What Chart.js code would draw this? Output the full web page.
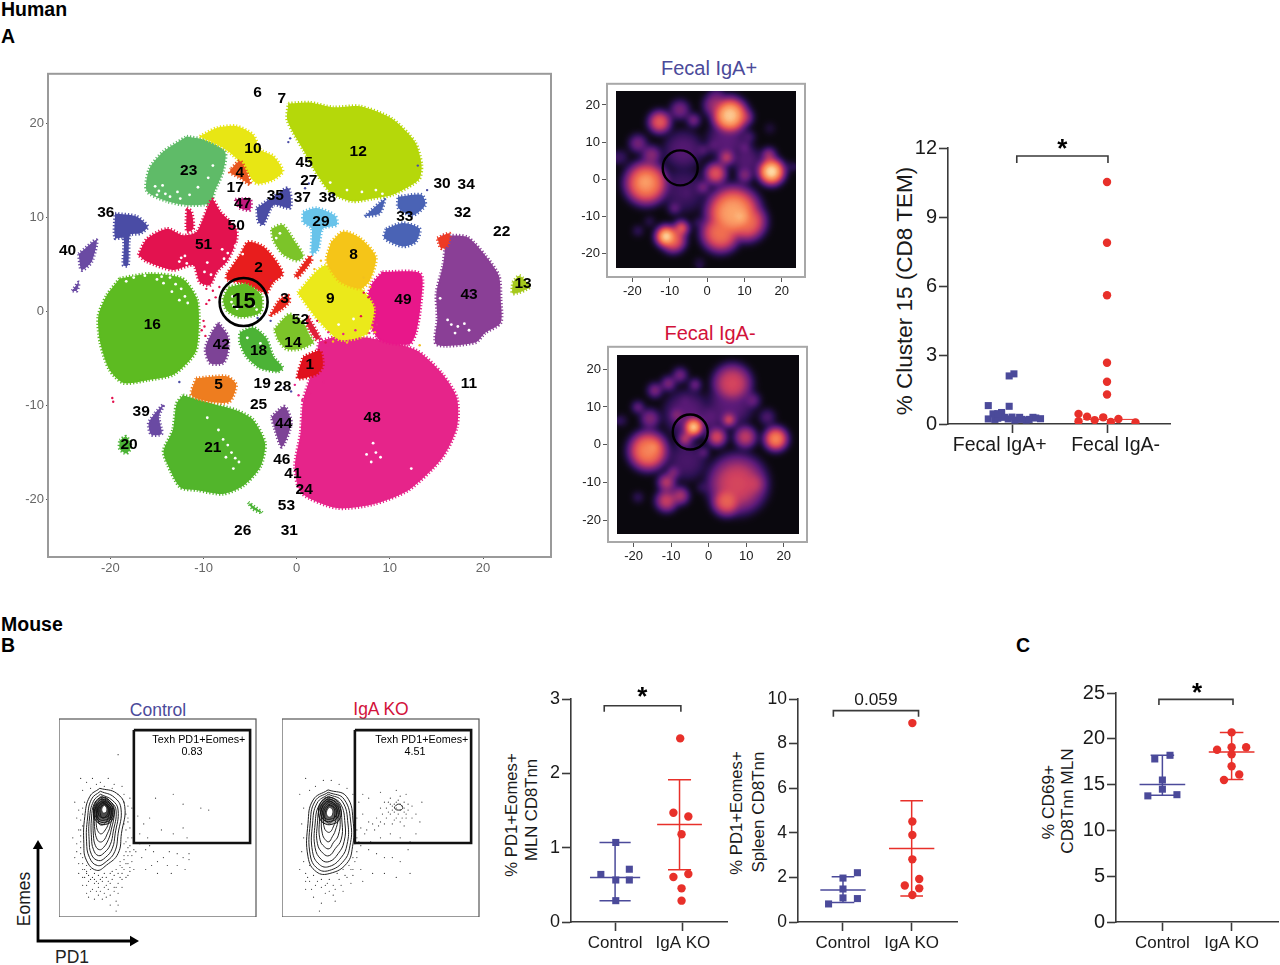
<!DOCTYPE html>
<html>
<head>
<meta charset="utf-8">
<script src="https://cdn.jsdelivr.net/npm/chart.js@4/dist/chart.umd.js"></script>
<style>
  html, body { margin: 0; padding: 0; background: #fff; }
  #page { position: relative; width: 1280px; height: 965px; overflow: hidden; font-family: "Liberation Sans", Arial, sans-serif; }
  canvas { position: absolute; }
  .t { position: absolute; white-space: nowrap; color: #000; transform: translate(-50%, -50%); }
  .h { font-weight: bold; font-size: 19.5px; transform: translate(0, -50%); }
  .v { color: #1a1a1a; transform: translate(-50%, -50%) rotate(-90deg); }
</style>
</head>
<body>
<div id="page">
  <div class="t h" style="left:1px;top:9px">Human</div>
  <div class="t h" style="left:1px;top:36px">A</div>
  <div class="t h" style="left:1px;top:624px">Mouse</div>
  <div class="t h" style="left:1px;top:645px">B</div>
  <div class="t h" style="left:1016px;top:645px">C</div>
  <div class="t" style="left:709px;top:68px;font-size:20px;color:#4b4a9a">Fecal IgA+</div>
  <div class="t" style="left:710px;top:333px;font-size:20px;color:#d2123a">Fecal IgA-</div>
  <div class="t" style="left:158px;top:710px;font-size:17.5px;color:#4b4a9a">Control</div>
  <div class="t" style="left:381px;top:709px;font-size:17.5px;color:#d2123a">IgA KO</div>
  <div class="t v" style="left:24px;top:899px;font-size:17.5px">Eomes</div>
  <div class="t" style="left:72px;top:957px;font-size:17.5px;color:#222">PD1</div>
  <div class="t v" style="left:905px;top:291px;font-size:22.5px">% Cluster 15 (CD8 TEM)</div>
  <div class="t v" style="left:512px;top:815px;font-size:16.7px">% PD1+Eomes+</div>
  <div class="t v" style="left:532px;top:810px;font-size:16.7px">MLN CD8Tnn</div>
  <div class="t v" style="left:737px;top:813px;font-size:16.7px">% PD1+Eomes+</div>
  <div class="t v" style="left:759px;top:812px;font-size:17px">Spleen CD8Tnn</div>
  <div class="t v" style="left:1048px;top:802px;font-size:17.3px">% CD69+</div>
  <div class="t v" style="left:1067px;top:801px;font-size:17.3px">CD8Tnn MLN</div>
</div>
<script>
// ---- panel A right
var igaPosSquares = [[2.18,1.02],[2.09,0.97],[0.8,0.75],[0.77,0.97],[0.5,0.89],[0.44,0.8],[0.32,0.86],[0.44,0.89],[0.22,0.75],[0.29,0.92],[0.22,0.96],[0.17,1.03],[0.29,1.08],[0.17,1.15],[0.29,1.22],[0.26,1.25],[0.23,1.3],[0.2,0.82],[0.2,1.1],[0.25,0.85],[0.3,1.0],[0.2,1.18],[0.45,0.85]];
var igaNegCircles = [[10.52,2],[7.88,2],[5.6,2],[2.66,2],[1.84,2],[1.28,2],[0.44,1.7],[0.12,1.7],[0.32,1.79],[0.17,1.87],[0.29,1.96],[0.09,2.04],[0.22,2.12],[0.07,2.3]];
var clusterGroups = ["Fecal IgA+", "Fecal IgA-"];

// ---- panels B and C: [value, x position]
var mlnControl = [[1.07,1.01],[0.64,0.79],[0.71,1.21],[0.565,1.01],[0.565,1.21],[0.287,1.01]];
var mlnKo = [[2.47,1.96],[1.47,1.86],[1.42,2.08],[1.18,1.98],[0.646,2.08],[0.605,1.86],[0.453,1.98],[0.287,1.98]];
var spleenControl = [[2.21,1.21],[1.97,1],[0.81,0.79],[1.48,1],[1.08,1],[1.05,1.21]];
var spleenKo = [[8.92,2.01],[4.51,2.01],[3.9,2.01],[2.81,2.01],[1.93,2.11],[1.64,1.9],[1.51,2.11],[1.21,2.01]];
var cd69Control = [[18.2,1.11],[17.8,0.89],[15.5,1],[14.5,1],[13.77,0.79],[13.9,1.21]];
var cd69Ko = [[20.7,2],[18.8,1.79],[19.08,2],[19.08,2.21],[18.3,2],[17.0,2],[16.1,2.11],[15.5,1.89]];
var mouseGroups = ["Control", "IgA KO"];
// mean, upper sd, lower sd
var mlnControlStats = [0.6, 1.07, 0.287], mlnKoStats = [1.31, 1.915, 0.704];
var spleenControlStats = [1.43, 2.03, 0.87], spleenKoStats = [3.3, 5.44, 1.17];
var cd69ControlStats = [15, 18.2, 13.84], cd69KoStats = [18.57, 20.7, 15.55];

// ---- tSNE clusters (outlines)
var c48 = [[2.4,-3.2],[4.6,-2.6],[8.2,-2.9],[12.8,-4.1],[15.6,-6.6],[17.2,-9.2],[17.2,-12.3],[15.6,-15.6],[12,-19],[8.2,-20.5],[4.3,-20.9],[0.5,-19.3],[-0.2,-16.5],[0.4,-13],[0.7,-9.4],[1.8,-6]];
var c12 = [[-0.9,22.1],[1.4,22.2],[3.9,21.7],[6.8,21.8],[10.2,20.5],[12.7,18],[13.4,15.6],[13.1,14],[10.3,12.4],[8.2,12],[6.0,11.7],[3.7,12.6],[2.3,14.4],[0.8,17],[-1,20.3]];
var c16 = [[-19.0,3.5],[-15.8,4.0],[-12.3,3.5],[-10.7,1.3],[-10.5,-1.5],[-10.9,-4.4],[-13.2,-6.7],[-16.0,-7.3],[-18.6,-7.6],[-20.1,-6.2],[-21.1,-3.3],[-21.3,-0.5],[-20.4,1.7]];
var c21 = [[-12.2,-8.9],[-9.0,-9.8],[-6.5,-10.5],[-4.7,-11.5],[-3.4,-14.0],[-3.9,-16.5],[-5.7,-18.5],[-7.9,-19.4],[-10.7,-19.0],[-12.5,-18.7],[-13.9,-16.2],[-14.3,-14.8],[-13.3,-12.6],[-12.9,-9.8]];
var c23 = [[-11.8,18.6],[-9.7,18.2],[-7.7,17.0],[-7.9,14.9],[-8.8,12.8],[-9.3,11.5],[-11.8,11.3],[-13.9,11.7],[-16.1,12.8],[-15.8,15.2],[-14.3,17.0]];
var c10 = [[-10.4,18.6],[-8.6,19.5],[-6.5,19.7],[-4.7,18.8],[-3.9,17.2],[-2.5,16.5],[-1.5,14.9],[-2.5,14.0],[-4.3,13.6],[-5.4,14.9],[-6.5,16.3],[-7.9,17.4]];
var c4 = [[-7.0,15.2],[-6.1,16.0],[-5.4,14.9],[-5.0,13.5],[-6.1,14.2],[-7.2,14.8]];
var c51 = [[-17.0,6.0],[-16.1,7.7],[-13.9,8.8],[-12.2,8.1],[-10.7,8.5],[-9.1,11.9],[-8.2,10.6],[-6.5,8.8],[-6.5,7.4],[-7.5,5.3],[-8.6,4.2],[-9.3,2.8],[-10.4,3.1],[-11.1,4.9],[-13.3,4.4],[-16.1,5.3]];
var c51spur = [[-11.8,11.0],[-11.3,10.6],[-11.1,8.8],[-11.8,8.5]];
var c2 = [[-7.5,4.0],[-6.1,6.0],[-5.2,7.4],[-3.6,6.9],[-2.4,5.6],[-1.5,4.0],[-2.5,3.1],[-3.3,2.0],[-5.4,2.9],[-7.5,3.4]];
var c15 = [[-7.3,2.6],[-5.4,2.9],[-3.8,1.7],[-3.9,-0.1],[-6.1,-0.6],[-7.5,0.1],[-7.9,1.3]];
var cLime = [[-2.7,8.8],[-1.5,9.2],[-0.2,7.4],[0.7,5.9],[0,5.4],[-1.5,6.1],[-2.5,7.6]];
var c3 = [[-2.9,-0.5],[-1.8,1.3],[-0.9,1.7],[-0.8,1.0],[-1.8,0.1]];
var c14 = [[-2.4,-1.9],[-0.8,-0.3],[0.7,-1.2],[1.4,-2.6],[1.8,-3.3],[0.3,-4.0],[-1.1,-4.0],[-2.0,-3.0]];
var c18 = [[-6.1,-2.2],[-4.7,-1.7],[-3.3,-2.8],[-2.5,-4.8],[-1.5,-6.0],[-2.0,-6.4],[-4.0,-6.0],[-5.4,-4.8],[-6.1,-3.3]];
var c42 = [[-8.4,-1.2],[-7.4,-2.6],[-7.4,-4.4],[-7.9,-5.5],[-9.3,-5.5],[-9.8,-4.0],[-9.1,-2.2]];
var c5 = [[-10.8,-7.1],[-7.5,-6.9],[-6.5,-7.8],[-7.2,-9.6],[-9.3,-9.6],[-11.3,-8.9]];
var c1 = [[0.7,-4.8],[2.5,-4.2],[2.8,-5.8],[2.1,-6.7],[0.1,-7.1]];
var c9 = [[0.1,2.0],[2.8,4.8],[4.8,4.5],[7,2.4],[8.3,0.3],[7.5,-2.4],[4.6,-3],[2.2,-0.8]];
var c8 = [[3.7,7.4],[5.0,8.5],[6.8,7.8],[8.5,5.8],[7.8,3.2],[6.8,2.4],[4.6,3.2],[3.2,5.3]];
var c49 = [[9.2,4.2],[13.3,4.0],[13.3,0.6],[12.8,-2.3],[12.1,-3.5],[8.9,-3],[7.4,-0.1],[8,2.8]];
var c43 = [[15.7,8.1],[18.3,7.9],[20.2,6.0],[21.7,3.8],[21.9,1.3],[21.9,-1.2],[20.2,-2.3],[19.2,-3.3],[15.0,-3.5],[15.1,-0.8],[15.0,2.0],[15.7,4.9],[15.9,6.7]];
var cRedTop = [[15.1,7.8],[16.4,8.3],[16.2,7.0],[15.5,6.7]];
var c13 = [[23.2,3.1],[23.9,3.8],[25,2.6],[23.2,1.9]];
var c29 = [[0.7,10.6],[2.1,11.0],[4.1,10.2],[4.3,9.2],[2.8,8.8],[2.3,6.6],[1.6,6.1],[1.6,8.8],[0.7,9.5]];
var c33a = [[10.9,12.2],[13.4,12.4],[13.8,11.3],[12.4,10.2],[10.9,11.0]];
var c33b = [[9.6,8.8],[11.4,9.4],[13.2,8.8],[12.8,7.4],[11.4,6.9],[9.4,7.8]];
var c33c = [[7.3,10.1],[9.4,11.9],[8.9,10.4]];
var c35 = [[-4.3,11.0],[-2.5,12.2],[-0.9,13.1],[-0.7,11.0],[-2.5,11.3],[-3.6,9.2],[-4.1,9.5]];
var c36 = [[-19.5,10.4],[-17.2,10.1],[-16.0,9.0],[-16.8,8.3],[-17.9,8.1],[-18.1,4.9],[-18.6,4.9],[-18.6,7.8],[-19.5,7.8]];
var c40 = [[-23.4,6.1],[-21.5,7.6],[-22.0,5.3],[-23.1,4.4]];
var c40b = [[-24.1,2.2],[-23.4,3.1],[-23.6,2.2]];
var c39 = [[-15.2,-10.8],[-14.3,-9.9],[-14.8,-11.2],[-14.5,-13],[-15.6,-13.1],[-15.9,-11.9]];
var c20 = [[-19,-13.7],[-18.3,-13.3],[-17.8,-14.4],[-18.3,-15.1],[-19,-14.6]];
var c44 = [[-2.7,-11.2],[-1.3,-10.1],[-0.6,-11.9],[-1.6,-14.4],[-2.4,-12.3]];
var c47 = [[-6.6,11.9],[-5,11.9],[-5,10.8],[-6.1,11]];
var cStripeA = [[-0.2,3.8],[1.4,5.9],[1.6,5.4],[0.1,3.6]];
var cStripeB = [[1.2,-0.5],[2.5,-2.8],[2.1,-3],[1,-1.2]];
var c26 = [[-5.2,-20.3],[-3.7,-21.4],[-4.7,-21]];

// gaps and stray cells inside and around the clusters
var whiteSpecks = [[-15,3.4],[-14.3,3],[-13.6,3.6],[-13,2.9],[-12.4,2.4],[-12,1.6],[-11.7,0.9],[-12.6,1.2],[-13.4,2.1],[-14.5,3.7],[-16.3,3.8],[-17.5,3.6],[-18.3,3.2],[-15.2,13.3],[-14.8,12.8],[-14.4,13.4],[-14.1,12.5],[-15,12.4],[-13.6,12.2],[-12.5,12],[-11.5,12.4],[-10.6,13.2],[-9.5,14.2],[-9,15.5],[-12.8,12.7],[-7.9,-13.6],[-7.4,-14.2],[-7,-15],[-6.6,-15.6],[-6.2,-16],[-7.6,-15.5],[-8.4,-12.6],[-9.6,-11.3],[-6.8,-16.7],[-12.6,5.3],[-12,5.9],[-12.4,5.7],[-11.8,5.1],[-8,6.6],[-7.4,6.2],[-7.8,5.6],[-9.6,5.2],[-9.9,4.2],[-9.2,3.9],[-6.6,7],[-6.4,6.3],[-6.1,6.5],[-5.8,6.1],[-7,1],[-6.8,0.6],[-6.4,0.3],[-6.9,1.6],[-4.6,0.6],[-4.3,0.2],[16.6,-1.4],[17.3,-1.6],[18,-1.3],[18.5,-2],[17,-2.3],[16.2,-0.9],[15.4,1.4],[8.2,-14],[8.5,-15],[9,-15.5],[8,-16],[7.5,-15.2],[12.3,-16.7],[7,12.7],[8.5,12.9],[9.2,12.5],[5.4,12.9],[3.6,13.7],[4.5,-1.4],[6.1,-0.8],[-5.3,-2.8],[-3.9,-3.4],[-2.2,7.8],[-1.8,8.3]];
var redSpecks = [[-9.7,0.8],[-9.4,1.2],[-10,-1],[-9.9,-1.6],[-10.2,-2],[-9.8,-2.6],[-7.8,2.4],[-9,2.2],[-8.7,1.5],[-8.3,2.6],[-9.7,2.4],[-19.8,-9.2],[-19.7,-9.6],[7.2,2],[7.7,1.5],[6.9,-0.5],[2.2,-1],[3.1,-3.3],[-2.8,3.3]];
var pinkSpecks = [[2.6,-2.9],[3.4,-2.2],[5,-2.4],[6.3,-2],[7.8,-2.3],[8.6,-1.4],[1.4,-8.7],[0.2,-8.9],[0.6,-9.4],[-0.2,-7.8],[2.9,-7.5],[3.3,-3.6]];
var yellowSpecks = [[7.6,-2.3],[8.1,-1.7],[8.4,-2.2],[2.6,5.4],[1.9,4.5],[3.9,-3.2],[5.4,-3.3],[13.2,-3.6],[7.9,2.6],[7.2,3.6]];
var blueSpecks = [[-0.7,18.4],[-0.9,18],[1.3,13.6],[0.9,13.1],[13,15.5],[14,12.9],[3.9,12.4],[-4.2,-0.7],[-2.8,-1],[-1.4,-8.1],[-0.6,-8.5],[-12.6,-7.5]];

var clusterLabels = ["6","7","10","12","23","45","4","27","17","35","37","38","47","30","34","33","32","22","36","29","50","51","40","2","8","13","3","9","49","43","16","52","14","42","18","1","5","19","28","11","25","39","48","44","20","21","46","41","24","53","26","31"];
var clusterLabelX = [-4.2,-1.6,-4.7,6.6,-11.6,0.8,-6.1,1.3,-6.6,-2.3,0.6,3.3,-5.8,15.6,18.2,11.6,17.8,22,-20.5,2.6,-6.5,-10,-24.6,-4.1,6.1,24.3,-1.3,3.6,11.4,18.5,-15.5,0.4,-0.4,-8.1,-4.1,1.4,-8.4,-3.7,-1.5,18.5,-4.1,-16.7,8.1,-1.4,-18,-9,-1.6,-0.4,0.8,-1.1,-5.8,-0.8];
var clusterLabelY = [23.3,22.6,17.3,17,15,15.8,14.7,13.9,13.1,12.3,12.1,12.1,11.4,13.6,13.5,10.1,10.5,8.5,10.5,9.5,9.1,7.1,6.5,4.6,6,2.9,1.4,1.3,1.2,1.8,-1.4,-0.9,-3.3,-3.5,-4.2,-5.7,-7.8,-7.7,-8,-7.7,-9.9,-10.7,-11.3,-11.9,-14.2,-14.5,-15.8,-17.3,-18.9,-20.6,-23.3,-23.3];
var circledCluster = [-5.7, 1.0];

// ---- density maps: x, y, spread, level
var densityPos = [[6.1,16.8,5,0.95],[2.5,19.5,3.6,0.5],[9.6,16.4,2.7,0.6],[-12.7,15,3.2,0.7],[-7.3,18.3,2.7,0.4],[-3.6,15.5,1.8,0.45],[-18.5,9.3,2.5,0.4],[-14.9,6.2,2.7,0.45],[-23.2,5.6,2,0.22],[-16.3,-1.3,6,0.82],[-16.5,-1,4,0.88],[5.2,5.6,2.2,0.62],[2.3,1.3,3.1,0.68],[-1.1,7.5,1.6,0.35],[1.6,8.8,1.6,0.35],[10.1,8.2,1.6,0.4],[10.1,0.9,2.2,0.45],[17.2,1.8,3.8,1],[16.5,6.2,2,0.55],[22.6,3.1,1.3,0.2],[-1.1,-2.4,1.8,0.45],[1.6,-5.8,2,0.4],[-5.5,-4,1.6,0.28],[-8.7,-8,1.6,0.4],[7,-9.3,7.5,0.88],[8.8,-10.2,4,0.92],[3.6,-14.5,5.5,0.75],[10.5,-11.5,5.5,0.75],[-10.9,-15.5,3.1,1],[-6.9,-13.3,2.2,0.75],[-9.1,-16.4,3.6,0.72],[-18.5,-14,1.3,0.25],[-15.4,-11.5,1.3,0.2],[-2,-22.6,1.3,0.18],[-2.4,-11.8,1.3,0.25],[16.8,13.3,1.3,0.15],[-6.4,7.5,5.4,0.28],[5.2,10.2,5.4,0.3],[-6.4,-3.1,6.2,0.22],[10.5,4.9,4,0.28],[11,11,1.8,0.3]];
var densityNeg = [[6.3,15.8,5.4,0.62],[-14.3,14,2,0.45],[-10.7,15.8,2,0.45],[-7.6,18,2,0.42],[-3.6,15.5,1.6,0.45],[-18.8,9.6,1.6,0.42],[-6.3,11.4,1.3,0.35],[11.6,11.4,2.2,0.38],[5.4,6.3,2,0.7],[-4,4.4,2.7,1],[-6.3,1.3,2,0.62],[-8.5,7.5,2,0.48],[-15.6,6.6,2.7,0.42],[-16.1,-1.8,5.5,0.8],[-14.7,-0.9,2.7,0.85],[2.2,1.8,2.7,0.65],[9.8,1.8,3.1,0.58],[17.9,1.3,3.4,0.82],[-1.3,-2.2,1.4,0.42],[15.6,7,2.2,0.28],[-23.2,6.1,1.4,0.22],[7.6,-10.5,8,0.62],[11.2,-10.5,4.5,0.6],[4.9,-14.9,4.3,0.72],[-11.2,-10.1,2.5,0.58],[-9.4,-7.5,1.8,0.48],[-11.2,-14.9,3.1,0.6],[-7.6,-13.6,2.5,0.55],[-18.8,-14,1.3,0.25],[-1.8,-11.4,1.3,0.25],[-5.8,7.9,6.3,0.3],[5.8,10.5,6.3,0.3],[-5.8,-4.4,5.4,0.24],[0.4,7,3.6,0.3]];
var densityTicks = [-20, -10, 0, 10, 20];
var circlePos = [-7.2, 2.8], circleNeg = [-4.9, 3.1];

// ---- flow plots, axes 0-100
var gateControl = [[38,94.4],[97,94.4],[97,37.4],[38,37.4],[38,94.4]];
var gateKo = [[37,94.4],[96,94.4],[96,37.4],[37,37.4],[37,94.4]];
var contoursControl = [
  [[20.7,65],[29.2,62.5],[33.4,55.7],[31.7,42.2],[30,32.1],[24.1,26.2],[19,23.6],[13.9,28.7],[12.6,37.2],[13.1,50.7],[15.6,60.8]],
  [[21,63.5],[28,60.5],[31.5,54.5],[30,42],[28.3,33],[24,28],[19.5,26],[15.5,30],[14,38],[14.5,50],[16.5,59.5]],
  [[21,62],[27,59],[30,54],[28.5,42],[27,34.5],[23.5,30],[20,28.5],[16.5,31.5],[15.3,39],[15.5,50],[17.5,58.5]],
  [[21.5,61],[26.5,58],[29,53.5],[27.5,43],[26,36.5],[23,32.5],[20,31],[17.5,34],[16.5,40],[16.5,50],[18,57.5]],
  [[21.5,60],[26,57],[28,53],[26.5,44],[25,39],[22.5,35],[20.5,34],[18.5,36],[17.5,41],[17.5,50],[18.5,56.5]],
  [[22,59],[25.5,56.5],[27,53],[26,46],[24.5,42],[22.5,38.5],[20.5,38],[19,40],[18.2,44],[18,50],[19,56]],
  [[22,58],[25,56],[26.5,53],[25,47],[23.5,44],[21.5,42],[20,43],[19,46],[19,51],[19.5,55]],
  [[22.5,57.5],[24.5,56],[25.5,53],[24.5,49],[23,47],[21,46.5],[20,48],[19.8,52],[20.3,55]],
  [[23,57],[24.5,55.5],[25,53],[23.5,50.5],[22,50],[21,52],[21,55]]
];
var coreControl = [
  [[17.5,55],[19,58.5],[22,60.5],[25.5,59],[28,54.5],[27,49],[24.5,47],[21,47],[18,50]],
  [[18,54],[19.5,57.5],[22,59.5],[25.5,58],[27.3,54],[26.3,49.5],[24,48],[21,48],[18.7,50.5]],
  [[18.7,54],[20,57],[22.3,58.5],[25,57.2],[26.5,54],[25.7,50],[23.5,49],[21,49],[19.3,51]],
  [[19.4,54],[20.5,56.5],[22.5,57.8],[24.6,56.6],[25.8,54],[25,51],[23,50.2],[21,50.5],[20,52]]
];
var peakControl = [[23,56.5],[24,55.5],[24.2,53.5],[23,52.5],[22,53],[21.8,55]];
var contoursKo = [
  [[23.4,64.2],[32.8,60.8],[36.2,47.3],[35.8,35.5],[32.8,27],[24.3,22],[17.5,22.8],[13.2,30.4],[13.2,47.3],[15.8,59.1]],
  [[23.5,63],[31.5,59.5],[35,47],[34.5,36],[31.5,28.5],[24,23.5],[18,24.5],[14.3,31.5],[14.3,47],[16.8,58.5]],
  [[23.5,62],[30.5,58.5],[33.5,47],[33,36.5],[30,30],[24,25.5],[19,26.5],[15.5,33],[15.5,47],[17.8,57.5]],
  [[23.5,61],[29.5,57.5],[32,47],[31.5,38],[28.5,32],[24,28],[20,29],[16.8,35],[16.8,47],[18.8,56.5]],
  [[23.5,60],[28.5,57],[30.5,47.5],[30,39],[27,34.5],[24,31],[21,32],[18,37],[18,47.5],[19.5,56]],
  [[23.5,59],[28,56],[29.5,49],[28.5,41],[26,37.5],[24,34.5],[21.5,35.5],[19.3,39],[19,48],[20.3,55]],
  [[23.5,58],[27.5,55.5],[28.5,50],[27,43.5],[25.5,40.5],[23.8,38],[22,39],[20.5,42],[20,49],[21,54.5]],
  [[23.7,57],[27,55],[27.5,50],[26,45.5],[24.5,43],[23,43],[21.5,45],[21,50],[21.5,54]],
  [[23.8,56.5],[26.3,55],[26.7,51],[25.2,48],[23.5,47.5],[22,49],[22,53]],
  [[57,55.5],[59,57],[61,56],[61,54.5],[59,54],[57.5,54.5]]
];
var coreKo = [
  [[18.5,55],[20.5,59],[23.5,60.5],[27.5,59],[30,54],[29,49],[26,47],[22,47],[19,50]],
  [[19.3,54.5],[21,58],[23.7,59.5],[27,58],[29,54],[28,50],[25.5,48.5],[22,48.5],[20,51]],
  [[20,54.5],[21.5,57.5],[24,58.5],[26.5,57.2],[28,54],[27,50.5],[25,49.5],[22.5,49.5],[20.8,51.5]]
];
var peakKo = [[24,55.5],[25.5,54.5],[25.7,52],[24.5,50.5],[23,51],[22.7,53.5]];
var dotsControl = [[8,58],[9,50],[10,44],[9,37],[11,32],[10,27],[12,24],[13,20],[15,18],[18,17],[20,15],[22,18],[25,14],[27,19],[30,17],[32,22],[34,27],[35,31],[36,36],[35,40],[36,45],[35,50],[37,28],[38,24],[34,20],[30,12],[26,11],[20,11],[16,13],[12,16],[10,22],[8,30],[7,40],[14,68],[17,70],[21,68],[25,70],[28,67],[32,66],[12,64],[11,70],[36,60],[33,58],[37,55],[14,12],[18,9],[29,8],[30,6],[41,37],[44,34],[46,36],[42,30],[48,33],[50,28],[53,30],[47,26],[55,26],[56,33],[60,32],[63,30],[66,29],[66,32],[60,26],[64,24],[57,22],[50,22],[44,24],[39,33],[41,42],[43,47],[46,50],[49,60],[58,62],[63,57],[72,55],[76,54],[63,45],[65,40],[58,42],[52,44],[45,40],[40,51],[30,82],[29,3],[14,26],[16,24],[18,22],[20,21],[23,22],[26,22],[29,24],[32,25],[33,29],[34,33],[33,37],[35,35],[12,30],[11,35],[11,41],[12,46],[12,52],[13,58],[16,65],[19,67],[23,66],[27,65],[30,62],[33,62],[35,56],[35,48],[37,40],[38,34],[37,31],[36,25],[31,20],[28,21],[24,20],[21,19],[18,19],[15,21],[12,27],[9,33],[24,16],[28,15],[33,24],[35,21],[19,13],[23,12],[31,28],[14,23],[17,20],[19,18],[22,20],[25,18],[27,23],[30,22],[31,26],[33,31],[36,33],[34,38],[34,44],[33,47],[34,52],[11,38],[11,44],[11,49],[10,54],[12,55],[14,22],[16,19],[20,17],[23,15],[26,17],[29,15],[32,19],[35,27],[36,23],[12,20],[13,24],[14,16],[17,14],[21,13],[24,10],[28,13],[32,15],[15,10],[22,9],[26,6]];
var dotsKo = [[59,52],[56,56],[62,58],[54,53],[52,58],[64,54],[66,56],[61,50],[57,49],[55,60],[60,61],[63,62],[50,55],[48,50],[68,52],[62,46],[52,47],[47,44],[44,48],[41,52],[40,45],[42,42],[45,38],[50,40],[55,42],[60,40],[65,38],[68,42],[70,48],[71,58],[58,64],[50,63],[44,60],[41,62],[39,58],[38,40],[40,36],[44,34],[48,32],[52,30],[56,30],[60,28],[64,34],[38,30],[36,24],[40,24],[46,22],[52,22],[58,20],[65,22],[57,53],[60,57],[62,53],[58,58],[55,52],[63,50],[56,47],[66,50],[53,50],[49,46],[11,55],[10,47],[11,40],[10,33],[11,28],[12,22],[14,18],[17,16],[20,15],[23,17],[26,16],[29,19],[32,21],[35,24],[37,28],[38,33],[39,38],[38,44],[38,50],[37,56],[36,62],[33,65],[29,67],[25,69],[21,69],[17,66],[14,64],[12,70],[9,62],[9,24],[12,14],[16,10],[20,7],[19,3],[26,11],[31,13],[27,8],[22,12],[35,17],[41,18],[14,26],[16,21],[20,19],[24,19],[28,22],[31,24],[34,26],[36,30],[37,37],[58,55],[60,54],[57,57],[61,56],[56,54],[55,57],[59,59],[62,55],[63,52],[53,55],[54,58],[58,50],[60,48],[64,57],[51,52],[50,48],[46,47],[43,44],[13,20],[18,18],[22,16],[27,14],[30,16],[33,20],[36,21],[12,18],[15,14],[24,13]];

// ---- arrows beside the flow plots
var arrowPath = [[95,0],[0,0],[0,96]];

Chart.defaults.font.family = '"Liberation Sans", Arial, sans-serif';
Chart.defaults.animation = false;
var inkGray = '#3a3a3a', blueInk = '#4b4a9a', redInk = '#e8302a';

function pts(list) { return list.map(function (p) { return { x: p[0], y: p[1] }; }); }
function flip(list) { return list.map(function (p) { return { x: p[1], y: p[0] }; }); }
function closed(list) { return pts(list.concat([list[0]])); }

// text at data positions
function textPlugin(items) {
  return {
    id: 'textMarks',
    afterDatasetsDraw: function (chart) {
      var c = chart.ctx;
      items.forEach(function (it) {
        c.save();
        c.font = it.font;
        c.fillStyle = it.color || '#000';
        c.textAlign = 'center';
        c.textBaseline = 'middle';
        c.fillText(it.text, chart.scales.x.getPixelForValue(it.x), chart.scales.y.getPixelForValue(it.y));
        c.restore();
      });
    }
  };
}
function framePlugin(color, width) {
  return {
    id: 'frame',
    afterDatasetsDraw: function (chart) {
      var a = chart.chartArea, c = chart.ctx;
      c.save();
      c.strokeStyle = color;
      c.lineWidth = width;
      c.strokeRect(a.left, a.top, a.right - a.left, a.bottom - a.top);
      c.restore();
    }
  };
}

// box = plot area on the page, m = room for the axes
function addChart(box, m, datasets, xOpt, yOpt, plugins) {
  var cv = document.createElement('canvas');
  var w = box.r - box.l + m.left + m.right, h = box.b - box.t + m.top + m.bottom;
  cv.width = w; cv.height = h;
  cv.style.left = (box.l - m.left) + 'px';
  cv.style.top = (box.t - m.top) + 'px';
  cv.style.width = w + 'px';
  cv.style.height = h + 'px';
  document.getElementById('page').appendChild(cv);
  xOpt.afterFit = function (s) { s.height = m.bottom; };
  yOpt.afterFit = function (s) { s.width = m.left; };
  return new Chart(cv, {
    type: 'scatter',
    data: { datasets: datasets },
    options: {
      responsive: false,
      devicePixelRatio: 1,
      animation: false,
      layout: { autoPadding: false, padding: { top: m.top, right: m.right, left: 0, bottom: 0 } },
      plugins: { legend: { display: false }, tooltip: { enabled: false } },
      scales: { x: xOpt, y: yOpt }
    },
    plugins: plugins || []
  });
}
function fixedTicks(vals) { return function (s) { s.ticks = vals.map(function (v) { return { value: v }; }); }; }

// GraphPad style axes
function statAxis(min, max, ticks, fontSize, tickFn) {
  return {
    type: 'linear', min: min, max: max,
    afterBuildTicks: fixedTicks(ticks),
    border: { color: inkGray, width: 1.6 },
    grid: { drawOnChartArea: false, tickLength: 9, tickWidth: 1.6, tickColor: inkGray },
    ticks: { autoSkip: false, maxRotation: 0, color: '#1a1a1a', font: { size: fontSize }, padding: 2, callback: tickFn || function (v) { return String(v); } }
  };
}
function bracket(x1, x2, yTop, yLow) {
  return { showLine: true, data: pts([[x1, yLow], [x1, yTop], [x2, yTop], [x2, yLow]]), borderColor: inkGray, borderWidth: 1.6, pointRadius: 0, fill: false };
}
function errorLines(center, stats, meanHalf, capHalf, color) {
  var d = [
    { x: center - meanHalf, y: stats[0] }, { x: center + meanHalf, y: stats[0] }, { x: NaN, y: NaN },
    { x: center - capHalf, y: stats[1] }, { x: center + capHalf, y: stats[1] }, { x: NaN, y: NaN },
    { x: center - capHalf, y: stats[2] }, { x: center + capHalf, y: stats[2] }, { x: NaN, y: NaN },
    { x: center, y: stats[1] }, { x: center, y: stats[2] }
  ];
  return { showLine: true, data: d, borderColor: color, borderWidth: 1.5, pointRadius: 0, spanGaps: false, fill: false };
}
function squares(list) { return { data: flip(list), pointStyle: 'rect', pointRadius: 5, backgroundColor: blueInk, borderWidth: 0, showLine: false }; }
function circles(list) { return { data: flip(list), pointStyle: 'circle', pointRadius: 4.2, backgroundColor: redInk, borderWidth: 0, showLine: false }; }
function groupLabel(names) { return function (v) { return names[v - 1]; }; }
function speckSet(list, color, radius) { return { data: pts(list), pointStyle: 'circle', pointRadius: radius, backgroundColor: color, borderWidth: 0, showLine: false }; }

// ---- tSNE map
var tsneBlobs = [
  [c3, '#e8281e'], [cStripeA, '#e8281e'], [cStripeB, '#e0203a'], [c47, '#c2197e'], [c4, '#e8571f'],
  [c1, '#e0101e'], [c15, '#62bb24'], [c2, '#e81d1d'], [cLime, '#7cc429'], [c14, '#7cc429'], [c18, '#4cb336'],
  [c42, '#7d4396'], [c5, '#ee7d1f'], [c8, '#f5c518'], [c9, '#ebe91a'], [c49, '#e8178a'], [cRedTop, '#ee3a24'],
  [c43, '#8a3f96'], [c13, '#a6c91d'], [c29, '#68c3ea'], [c33a, '#4a63b5'], [c33b, '#4a63b5'], [c33c, '#4a63b5'],
  [c35, '#4a4ca5'], [c36, '#4a4ca5'], [c40, '#6a4aa3'], [c40b, '#6a4aa3'], [c39, '#6a4aa3'], [c20, '#4cb336'],
  [c44, '#7d4396'], [c26, '#4cb336'], [c51, '#e3124f'], [c51spur, '#e3124f'], [c10, '#e8e614'], [c23, '#5fbb68'],
  [c21, '#52b52b'], [c16, '#5dbb21'], [c48, '#e6248a'], [c12, '#b5d80a']
];
var tsneSets = [
  { data: pts([circledCluster]), pointStyle: 'circle', pointRadius: 24, backgroundColor: 'rgba(0,0,0,0)', borderColor: '#000', borderWidth: 2.6, showLine: false },
  speckSet(redSpecks, '#e3124f', 1.2), speckSet(pinkSpecks, '#e6248a', 1.2), speckSet(yellowSpecks, '#f0c020', 1.2), speckSet(blueSpecks, '#4a4ca5', 1.2),
  speckSet(whiteSpecks, '#fff', 1.4)
];
tsneBlobs.forEach(function (b) {
  tsneSets.push({ showLine: true, data: closed(b[0]), fill: 'shape', tension: 0.25, backgroundColor: b[1], borderColor: b[1], borderWidth: 3.5, borderDash: [1.2, 2], pointRadius: 0 });
});
var labelItems = clusterLabels.map(function (t, i) { return { text: t, x: clusterLabelX[i], y: clusterLabelY[i], font: 'bold 15.5px "Liberation Sans"' }; });
labelItems.push({ text: '15', x: circledCluster[0], y: circledCluster[1], font: 'bold 22px "Liberation Sans"' });

function lightAxis(min, max, ticks, fontSize, tickLen, color) {
  return {
    type: 'linear', min: min, max: max,
    afterBuildTicks: fixedTicks(ticks),
    border: { display: false },
    grid: { drawOnChartArea: false, tickLength: tickLen, tickWidth: 1, tickColor: '#555' },
    ticks: { autoSkip: false, maxRotation: 0, color: color, font: { size: fontSize }, padding: 2, callback: function (v) { return String(v); } }
  };
}
addChart({ l: 48, t: 72, r: 551, b: 557 }, { left: 30, right: 8, top: 8, bottom: 22 }, tsneSets,
  lightAxis(-26.7, 27.3, densityTicks, 13, 2, '#666'), lightAxis(-26.1, 25.26, densityTicks, 13, 2, '#666'),
  [textPlugin(labelItems), framePlugin('#9a9a9a', 2)]);

// ---- density maps: blobs merge in grey, get blurred, then grey goes through the colour ramp
var rampLevels = [0, 0.15, 0.3, 0.45, 0.6, 0.75, 0.88, 1];
var rampColors = [[10,8,14],[42,16,80],[91,26,120],[143,42,114],[208,64,95],[242,112,79],[252,165,106],[253,236,184]];
var rampTable = [];
for (var lv = 0; lv < 256; lv++) {
  var v = lv / 255, seg = 1;
  while (seg < rampLevels.length - 1 && v > rampLevels[seg]) seg++;
  var f = (v - rampLevels[seg - 1]) / (rampLevels[seg] - rampLevels[seg - 1]);
  rampTable.push([0, 1, 2].map(function (k) { return rampColors[seg - 1][k] + (rampColors[seg][k] - rampColors[seg - 1][k]) * f; }));
}
function densitySet(list, pxPerUnit) {
  return {
    type: 'bubble',
    data: list.map(function (b) { return { x: b[0], y: b[1], r: b[2] * pxPerUnit * 1.25, level: b[3] }; }),
    borderWidth: 0,
    backgroundColor: function (ctx) {
      if (!ctx.raw) return 'rgba(0,0,0,0)';
      var ch = ctx.chart, px = ch.scales.x.getPixelForValue(ctx.raw.x), py = ch.scales.y.getPixelForValue(ctx.raw.y);
      if (!isFinite(px) || !isFinite(py)) return 'rgba(0,0,0,0)';
      var g = ch.ctx.createRadialGradient(px, py, 0, px, py, ctx.raw.r);
      for (var i = 0; i <= 12; i++) {
        var t = i / 12, grey = Math.round(255 * ctx.raw.level * Math.pow(1 - Math.pow(t, 3), 1.5));
        g.addColorStop(t, 'rgb(' + grey + ',' + grey + ',' + grey + ')');
      }
      return g;
    }
  };
}
function densityPlugin(bounds) {
  var rect = function (chart) {
    var sx = chart.scales.x, sy = chart.scales.y;
    var l = Math.round(sx.getPixelForValue(bounds[0])), r = Math.round(sx.getPixelForValue(bounds[1]));
    var t = Math.round(sy.getPixelForValue(bounds[3])), b = Math.round(sy.getPixelForValue(bounds[2]));
    return { l: l, t: t, w: r - l, h: b - t };
  };
  return {
    id: 'densityBackdrop',
    beforeDatasetsDraw: function (chart) {
      var c = chart.ctx, q = rect(chart);
      c.save();
      c.fillStyle = '#000';
      c.fillRect(q.l, q.t, q.w, q.h);
      c.restore();
    },
    beforeDatasetDraw: function (chart, args) { if (args.meta.type === 'bubble') chart.ctx.globalCompositeOperation = 'lighten'; },
    afterDatasetDraw: function (chart, args) {
      if (args.meta.type !== 'bubble') return;
      var c = chart.ctx, q = rect(chart);
      c.globalCompositeOperation = 'source-over';
      c.save();
      c.filter = 'blur(3px)';
      c.drawImage(c.canvas, q.l, q.t, q.w, q.h, q.l, q.t, q.w, q.h);
      c.restore();
      var img = c.getImageData(q.l, q.t, q.w, q.h), d = img.data;
      for (var i = 0; i < d.length; i += 4) {
        var rgb = rampTable[d[i]];
        d[i] = rgb[0]; d[i + 1] = rgb[1]; d[i + 2] = rgb[2]; d[i + 3] = 255;
      }
      c.putImageData(img, q.l, q.t);
      // wipe whatever spilled past the black square
      c.save();
      c.globalCompositeOperation = 'destination-out';
      c.beginPath();
      c.rect(0, 0, chart.width, chart.height);
      c.rect(q.l, q.t, q.w, q.h);
      c.fill('evenodd');
      c.restore();
    }
  };
}
function ringSet(p) { return { data: pts([p]), pointStyle: 'circle', pointRadius: 17.5, backgroundColor: 'rgba(0,0,0,0)', borderColor: '#000', borderWidth: 2.4, showLine: false }; }

// axes come in a second chart on top, so the wipe cannot touch them
function densityPanel(box, list, ring, bounds, yRange) {
  addChart(box, { left: 40, right: 6, top: 8, bottom: 26 },
    [ringSet(ring), densitySet(list, 3.75)],
    lightAxis(-26.8, 26.2, [], 13, 0, '#1a1a1a'), lightAxis(yRange[0], yRange[1], [], 13, 0, '#1a1a1a'),
    [densityPlugin(bounds)]);
  addChart(box, { left: 40, right: 6, top: 8, bottom: 26 }, [],
    lightAxis(-26.8, 26.2, densityTicks, 13, 5, '#1a1a1a'), lightAxis(yRange[0], yRange[1], densityTicks, 13, 5, '#1a1a1a'),
    [framePlugin('#a8a8a8', 2)]);
}
densityPanel({ l: 607, t: 82, r: 805, b: 277 }, densityPos, circlePos, [-24.5, 23.8, -23.9, 23.3], [-26.3, 25.7]);
densityPanel({ l: 608, t: 345, r: 807, b: 542 }, densityNeg, circleNeg, [-24.5, 24, -23.7, 23.3], [-25.7, 25.9]);

// ---- % cluster 15: the group names sit wider apart than the ticks
var xA = statAxis(0.326, 2.663, [1, 2], 19.5, function () { return ''; });
var groupFont = '19.5px "Liberation Sans"';
addChart({ l: 948, t: 148, r: 1170, b: 424 }, { left: 56, right: 6, top: 14, bottom: 40 },
  [squares(igaPosSquares), circles(igaNegCircles),
   { showLine: true, data: pts([[1.75, 0.2], [2.3, 0.2]]), borderColor: redInk, borderWidth: 1, pointRadius: 0 },
   bracket(1.05, 2.01, 11.65, 11.35)],
  xA, statAxis(0, 12, [0, 3, 6, 9, 12], 20),
  [textPlugin([{ text: '*', x: 1.53, y: 11.9, font: 'bold 26px "Liberation Sans"' },
    { text: clusterGroups[0], x: 0.87, y: -0.94, font: groupFont, color: '#1a1a1a' },
    { text: clusterGroups[1], x: 2.09, y: -0.94, font: groupFont, color: '#1a1a1a' }])]);

// ---- mouse stat plots
addChart({ l: 571, t: 699, r: 727, b: 922 }, { left: 69, right: 6, top: 14, bottom: 36 },
  [squares(mlnControl), circles(mlnKo),
   errorLines(1, mlnControlStats, 0.37, 0.23, blueInk), errorLines(1.95, mlnKoStats, 0.33, 0.17, redInk),
   bracket(0.84, 1.97, 2.91, 2.83)],
  statAxis(0.35, 2.65, [1, 2], 17, groupLabel(mouseGroups)), statAxis(0, 3, [0, 1, 2, 3], 18),
  [textPlugin([{ text: '*', x: 1.4, y: 3.02, font: 'bold 26px "Liberation Sans"' }])]);

addChart({ l: 798, t: 699, r: 957, b: 922 }, { left: 71, right: 6, top: 14, bottom: 36 },
  [squares(spleenControl), circles(spleenKo),
   errorLines(1, spleenControlStats, 0.33, 0.165, blueInk), errorLines(2, spleenKoStats, 0.33, 0.165, redInk),
   bracket(0.86, 2.1, 9.48, 9.2)],
  statAxis(0.345, 2.66, [1, 2], 17, groupLabel(mouseGroups)), statAxis(0, 10, [0, 2, 4, 6, 8, 10], 17.5),
  [textPlugin([{ text: '0.059', x: 1.48, y: 9.95, font: '17.3px "Liberation Sans"', color: '#1a1a1a' }])]);

addChart({ l: 1116, t: 693, r: 1278, b: 922 }, { left: 77, right: 2, top: 14, bottom: 36 },
  [squares(cd69Control), circles(cd69Ko),
   errorLines(1, cd69ControlStats, 0.33, 0.17, blueInk), errorLines(2, cd69KoStats, 0.33, 0.17, redInk),
   bracket(0.95, 2.02, 24.3, 23.7)],
  statAxis(0.33, 2.67, [1, 2], 17, groupLabel(mouseGroups)), statAxis(0, 25, [0, 5, 10, 15, 20, 25], 20),
  [textPlugin([{ text: '*', x: 1.5, y: 24.9, font: 'bold 26px "Liberation Sans"' }])]);

// ---- flow plots
function flowAxis() {
  return { type: 'linear', min: 0, max: 100, display: false };
}
function flowSets(gate, contours, core, peak, dots) {
  var sets = [{ showLine: true, data: pts(gate), borderColor: '#111', borderWidth: 2.6, pointRadius: 0 }];
  sets.push({ showLine: true, data: closed(peak), fill: 'shape', backgroundColor: '#fff', borderColor: '#333', borderWidth: 1, pointRadius: 0, tension: 0.45 });
  core.forEach(function (c) {
    sets.push({ showLine: true, data: closed(c), fill: 'shape', backgroundColor: 'rgba(20,20,20,0.3)', borderColor: '#111', borderWidth: 1, pointRadius: 0, tension: 0.45 });
  });
  contours.forEach(function (c) {
    sets.push({ showLine: true, data: closed(c), borderColor: '#222', borderWidth: 1, pointRadius: 0, tension: 0.45 });
  });
  sets.push({ data: pts(dots), pointStyle: 'circle', pointRadius: 0.6, backgroundColor: '#333', borderWidth: 0, showLine: false });
  return sets;
}
function flowChart(box, sets, labels) {
  addChart(box, { left: 0, right: 2, top: 2, bottom: 0 }, sets, flowAxis(), flowAxis(), [textPlugin(labels), framePlugin('#555', 1.2)]);
}
var smallFont = '10.8px "Liberation Sans"';
flowChart({ l: 59, t: 719, r: 256, b: 917 }, flowSets(gateControl, contoursControl, coreControl, peakControl, dotsControl),
  [{ text: 'Texh PD1+Eomes+', x: 71, y: 89.2, font: smallFont }, { text: '0.83', x: 67.5, y: 83.5, font: smallFont }]);
flowChart({ l: 282, t: 719, r: 479, b: 917 }, flowSets(gateKo, contoursKo, coreKo, peakKo, dotsKo),
  [{ text: 'Texh PD1+Eomes+', x: 71, y: 89.2, font: smallFont }, { text: '4.51', x: 67.5, y: 83.5, font: smallFont }]);

// ---- Eomes / PD1 arrows
addChart({ l: 38, t: 842, r: 138, b: 941 }, { left: 8, right: 8, top: 8, bottom: 8 },
  [{ showLine: true, clip: false, data: pts(arrowPath), borderColor: '#000', borderWidth: 2.8, backgroundColor: '#000',
     pointStyle: 'triangle', pointRadius: [6, 0, 6], pointRotation: [90, 0, 0], pointBorderWidth: 0 }],
  flowAxis(), flowAxis());
</script>
</body>
</html>
